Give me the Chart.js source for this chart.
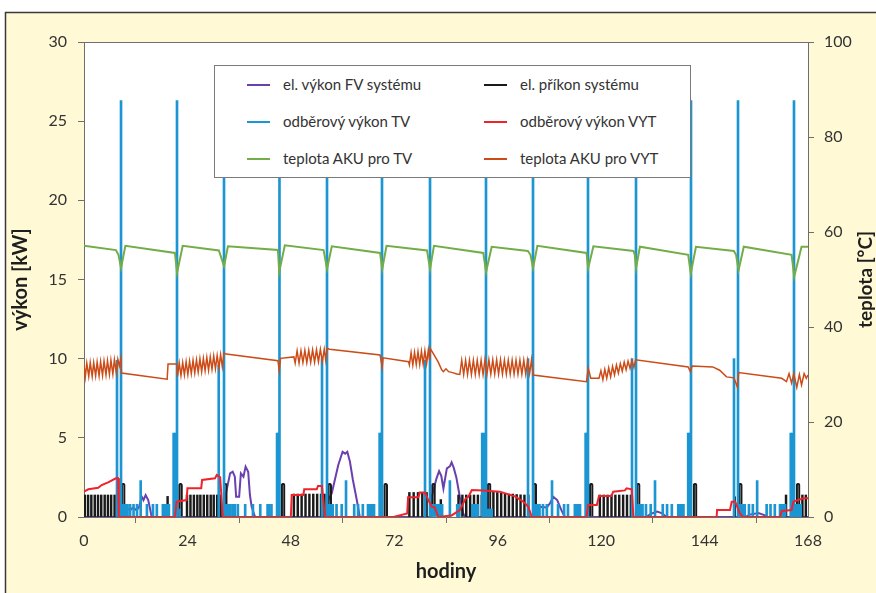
<!DOCTYPE html>
<html>
<head>
<meta charset="utf-8">
<script src="https://cdn.jsdelivr.net/npm/chart.js@4.4.1/dist/chart.umd.min.js"></script>
<style>
  body { margin: 0; background: #fff; }
  #wrap { position: relative; width: 876px; height: 593px; }
  #legend {
    position: absolute; left: 214px; top: 65px; width: 475px; height: 111px;
    background: #fff; border: 1px solid #7a7a7a; font: 15px Lato, sans-serif; color: #333;
  }
  .item { position: absolute; height: 20px; line-height: 20px; white-space: nowrap; }
  .item i { position: absolute; left: 0; top: 9px; width: 23px; height: 2px; }
  .item span { position: absolute; left: 36px; top: -1px; }
</style>
</head>
<body>
<div id="wrap">
  <canvas id="c" width="876" height="593"></canvas>
  <div id="legend"></div>
</div>
<script>
// x axis: hours, left axis kW, right axis °C
const xTicks = [0, 24, 48, 72, 96, 120, 144, 168];
const seriesNames = ['el. výkon FV systému', 'el. příkon systému', 'odběrový výkon TV',
  'odběrový výkon VYT', 'teplota AKU pro TV', 'teplota AKU pro VYT'];

// el. výkon FV systému [kW]
const pvPower = [[0,0],[9.6,0],[9.9,0.55],[10.7,0.42],[11.4,0.6],[12.2,0.42],[12.8,0.65],[13.4,1.28],[13.8,1.07],[14.3,1.39],[14.9,1.07],[15.3,0.55],[15.7,0],
  [32.5,0],[32.7,1.07],[33.1,1.7],[33.9,2.76],[34.5,2.86],[35.0,2.55],[35.3,1.28],[36.0,1.28],[36.4,2.76],[37.0,2.55],[37.5,3.18],[38.1,2.86],[38.5,1.39],[38.9,0.65],[39.7,0],
  [56.5,0],[56.7,1.07],[57.5,1.5],[58.2,2.34],[59.0,3.28],[60.0,4.12],[60.6,4.0],[61.1,4.12],[61.7,3.5],[62.4,2.34],[63.3,1.07],[64.0,0],
  [80.5,0],[80.7,1.28],[81.8,2.44],[82.4,2.9],[82.9,2.6],[83.4,1.8],[84.2,3.07],[84.9,3.2],[85.3,3.45],[85.8,3.1],[86.4,2.5],[87.2,1.28],[88.0,0.23],[88.4,0],
  [104.6,0],[105.3,0.5],[105.8,0.65],[107.4,0.6],[108.2,0.9],[108.9,1.28],[109.8,1.07],[110.8,0.42],[111.6,0],
  [130.5,0],[131.5,0.2],[133.0,0.35],[134.0,0.25],[135.0,0.05],[135.5,0],
  [153.5,0],[154.5,0.15],[156.5,0.25],[158.0,0.1],[158.5,0],[168,0]];

// el. příkon systému [kW]: compressor pulses and short runs after hot-water draws
const elPulses = [[0.2,1.39],[0.95,1.39],[1.7,1.39],[2.5,1.39],[3.25,1.39],[4.0,1.39],[4.8,1.39],[5.55,1.39],[6.3,1.39],[7.1,1.39],[7.85,1.39],
  [19.4,1.3],[23.9,1.39],[24.7,1.39],[25.5,1.39],[26.3,1.39],[27.0,1.39],[27.8,1.39],[28.6,1.39],[29.4,1.39],[30.1,1.39],[30.9,1.39],[31.7,1.39],
  [48.7,1.45],[49.6,1.45],[50.5,1.45],[51.4,1.45],[52.3,1.45],[53.2,1.45],[54.1,1.45],[55.0,1.45],[55.8,1.45],
  [75.5,1.55],[76.5,1.55],[77.5,1.55],[78.5,1.55],[79.5,1.55],[82.8,1.1],
  [86.9,1.39],[87.8,1.39],[88.7,1.39],[89.6,1.39],[90.5,1.39],[91.4,1.39],[92.3,1.39],
  [95.0,1.6],[95.9,1.55],[96.8,1.5],[97.7,1.5],[98.6,1.45],[99.5,1.45],[100.4,1.42],[101.3,1.4],[102.2,1.39],[103.1,1.39],
  [119.7,1.39],[120.6,1.39],[121.5,1.39],[122.4,1.39],[123.3,1.39],[124.2,1.39],[125.1,1.39],[126.0,1.39],[126.9,1.39],
  [151.0,1.28],[162.9,1.39],[166.7,1.39],[167.5,1.39]];
const elRuns = [[9.1,2.13],[22.4,2.13],[32.8,2.13],[46.2,2.13],[57.0,2.13],[70.0,2.13],[81.1,2.13],
  [94.0,2.13],[104.6,2.13],[117.7,2.13],[128.6,2.13],[141.8,2.13],[152.3,2.13],[165.7,2.13]];

// odběrový výkon TV [kW]
const tvPower = [[7.66,9.9],[8.59,26.3],[8.9,0.8],[9.3,0.8],[9.7,0.8],[10.1,0.8],[10.7,0.8],[11.5,0.8],[12.3,0.8],[13.15,2.3],[14.6,0.8],[16.0,0.8],[16.9,0.8],
  [18.3,0.8],[18.8,0.8],[19.3,0.8],[19.7,0.8],[20.8,5.3],[21.2,5.3],[21.58,26.3],[22.2,0.5],
  [31.26,9.6],[32.49,26.3],[32.8,0.8],[33.2,0.8],[33.6,0.8],[34.0,0.8],[34.5,0.8],[35.0,0.8],[35.7,0.8],[37.4,0.8],[39.2,0.8],[40.9,0.8],
  [42.6,0.8],[43.0,0.8],[43.5,0.8],[44.8,5.3],[45.1,5.3],[45.36,26.3],
  [55.23,10.0],[56.39,26.3],[56.8,0.8],[57.3,0.8],[57.7,0.8],[58.6,0.8],[59.8,0.8],[60.8,2.3],[62.7,0.8],[63.6,0.8],[64.7,0.8],
  [65.9,0.8],[66.3,0.8],[66.8,0.8],[67.3,0.8],[68.6,5.3],[68.9,5.3],[69.15,26.3],
  [79.13,9.9],[80.29,26.3],[80.7,0.8],[81.1,0.8],[81.6,0.8],[82.2,0.8],[82.6,0.8],[83.1,0.8],[84.9,2.3],[86.6,0.8],[87.1,0.8],
  [90.1,0.8],[90.5,0.8],[91.0,0.8],[91.4,0.8],[92.4,5.3],[92.8,5.3],[93.28,26.3],[93.7,0.5],[94.2,0.5],[94.6,0.5],
  [103.03,10.0],[104.19,26.3],[104.5,0.8],[104.9,0.8],[105.3,0.8],[105.7,0.8],[106.5,0.8],[107.4,0.8],[108.6,2.3],[110.0,0.8],[111.4,0.8],[112.3,0.8],
  [113.9,0.8],[114.3,0.8],[114.7,0.8],[115.1,0.8],[116.4,5.3],[116.7,5.3],[116.95,26.3],
  [127.16,10.0],[128.09,26.3],[128.4,0.8],[128.8,0.8],[129.2,0.8],[129.6,0.8],[130.4,0.8],[131.5,0.8],[132.5,2.3],[134.3,0.8],[135.3,0.8],[136.4,0.8],
  [137.9,0.8],[138.3,0.8],[138.7,0.8],[139.1,0.8],[140.2,5.3],[140.55,5.3],[140.85,26.3],
  [150.83,10.0],[151.76,26.3],[152.1,0.8],[152.5,0.8],[152.9,0.8],[153.3,0.8],[154.3,0.8],[155.2,0.8],[156.2,2.3],[158.4,0.8],[159.3,0.8],[160.3,0.8],
  [161.5,0.8],[161.9,0.8],[162.3,0.8],[162.7,0.8],[164.0,5.3],[164.4,5.3],[164.75,26.3],[165.1,0.8],[165.5,0.8],[165.9,0.8],[166.3,0.8]];

// odběrový výkon VYT [kW]
const vytPower = [[0,1.6],[1.0,1.75],[3.3,1.85],[4.1,2.02],[5.6,2.19],[7.4,2.44],[7.9,2.44],[8.1,0],
  [21.1,0],[21.5,0.97],[23.8,1.07],[24.0,1.81],[27.2,1.81],[27.4,2.34],[30.4,2.44],[30.8,2.65],[31.6,2.5],[32.2,0],
  [48.0,0],[48.2,1.39],[50.9,1.39],[51.1,1.75],[54.0,1.75],[54.3,1.96],[55.2,1.96],[55.5,1.2],[55.9,0],
  [71.8,0],[75.0,0.23],[75.2,1.24],[77.6,1.24],[77.9,1.54],[79.1,1.54],[79.9,1.07],[80.7,0.65],[81.4,0.6],[82.2,0],
  [85.3,0.1],[87.2,0.44],[88.0,0.86],[88.6,1.18],[89.2,1.28],[90.0,1.7],[92.6,1.68],[96.5,1.6],[100.0,1.3],[101.9,0.97],[103.1,0.65],[103.9,0],
  [116.6,0],[117.0,0.76],[119.0,0.76],[119.5,1.33],[122.4,1.33],[122.8,1.6],[125.5,1.68],[125.9,1.81],[127.1,1.75],[127.5,0],
  [146.8,0],[146.9,0.44],[149.9,0.44],[150.3,0.97],[151.1,0.97],[152.2,0.23],[152.9,0],
  [161.5,0],[161.9,0.38],[164.2,0.44],[164.6,0.97],[166.9,1.18],[168,1.18]];

// teplota AKU pro TV [°C]
const tvTemp = [[0,57.1],[7.4,56.2],[8.0,55.2],[8.6,52.4],[9.6,57.1],[21.1,55.6],[21.6,51.4],[22.9,57.1],
  [31.3,56.1],[32.5,52.8],[33.4,57.0],[45.0,56.2],[45.3,51.6],[46.6,57.2],[55.6,56.2],[56.4,52.2],[57.5,57.0],
  [68.7,55.6],[69.2,52.2],[70.2,57.1],[79.6,56.1],[80.3,52.2],[81.2,57.1],[92.65,55.6],[93.3,51.6],[94.6,56.9],
  [103.0,56.0],[103.6,55.2],[104.2,52.4],[105.2,57.1],[116.6,55.6],[117.0,52.4],[118.2,57.0],
  [127.5,56.0],[127.8,55.2],[128.1,52.4],[129.0,56.9],[140.2,55.2],[140.8,51.3],[142.0,56.9],
  [150.8,56.0],[151.3,55.2],[151.9,52.0],[153.1,56.9],[164.2,55.2],[164.8,50.6],[166.5,56.9],[168,56.9]];

// teplota AKU pro VYT [°C]
const vytTemp = [[0,32.0],[0.3,29.5],[0.65,32.4],[1.1,29.6],[1.45,32.5],[1.9,29.6],[2.25,32.5],[2.7,29.7],[3.05,32.6],[3.5,29.7],[3.85,32.7],
  [4.3,29.8],[4.65,32.8],[5.1,29.9],[5.45,32.9],[5.9,30.0],[6.25,33.0],[6.7,30.1],[7.05,33.1],[7.5,30.3],[7.85,33.2],[8.2,31.8],[8.55,33.4],[8.7,30.3],
  [19.3,29.0],[19.5,32.2],[21.5,32.2],[21.7,29.6],[22.1,32.4],[22.5,29.8],[22.9,32.5],[23.3,29.9],[23.7,32.7],[24.1,30.0],[24.5,32.8],
  [24.9,30.2],[25.3,33.0],[25.7,30.3],[26.1,33.1],[26.5,30.5],[26.9,33.3],[27.3,30.6],[27.7,33.4],[28.1,30.8],[28.5,33.6],[28.9,30.9],
  [29.3,33.7],[29.7,31.1],[30.1,33.9],[30.5,31.2],[30.9,34.0],[31.3,31.4],[31.7,34.2],[32.1,31.6],[32.5,34.5],
  [33.0,34.3],[45.0,32.9],[45.3,30.9],[45.6,33.4],[48.7,33.7],
  [49.0,32.4],[49.45,35.0],[49.9,32.4],[50.35,35.0],[50.8,32.5],[51.25,35.1],[51.7,32.5],[52.15,35.1],[52.6,32.6],[53.05,35.2],
  [53.5,32.6],[53.95,35.2],[54.4,32.7],[54.85,35.3],[55.3,32.7],[55.75,35.3],[56.1,33.0],[56.4,35.5],
  [57.0,35.3],[68.7,34.1],[69.2,31.5],[69.4,33.5],[75.3,32.7],
  [75.5,32.0],[75.9,34.6],[76.3,32.0],[76.7,34.7],[77.1,32.1],[77.5,34.8],[77.9,32.1],[78.3,34.9],[78.7,32.2],[79.1,35.0],
  [79.5,32.3],[79.9,35.2],[80.2,33.0],[80.4,35.4],
  [81.2,34.2],[82.2,32.6],[83.0,31.0],[83.4,30.6],[84.0,31.2],[84.6,30.6],[85.5,30.4],[86.5,30.1],[87.2,30.0],
  [87.65,33.0],[88.1,30.0],[88.55,33.0],[89.0,30.0],[89.45,33.0],[89.9,30.0],[90.35,33.0],[90.8,30.0],[91.25,33.0],[91.7,30.0],
  [92.15,33.0],[92.6,30.0],[93.05,33.1],[93.5,30.1],[93.95,33.1],[94.4,30.1],[94.85,33.1],[95.3,30.1],[95.75,33.1],[96.2,30.1],
  [96.65,33.1],[97.1,30.1],[97.55,33.0],[98.0,30.1],[98.45,33.0],[98.9,30.1],[99.35,33.0],[99.8,30.1],[100.25,33.0],[100.7,30.1],
  [101.15,33.0],[101.6,30.1],[102.05,33.0],[102.5,30.1],[102.95,33.0],[103.4,30.2],[103.85,33.1],
  [104.2,29.9],[116.6,28.5],[117.0,31.3],[117.6,29.2],[119.5,29.2],
  [119.95,30.8],[120.4,28.9],[120.85,31.1],[121.3,29.2],[121.75,31.4],[122.2,29.5],[122.65,31.7],[123.1,29.9],[123.55,32.0],
  [124.0,30.3],[124.45,32.3],[124.9,30.7],[125.35,32.6],[125.8,31.0],[126.25,32.8],[126.7,31.3],[127.15,33.0],[127.6,31.5],[128.0,33.1],
  [140.2,31.6],[140.7,30.6],[141.1,31.8],[145.9,31.6],[147.5,30.9],[149.1,29.5],[150.8,29.3],[151.6,27.4],[151.9,30.4],[161.9,29.2],
  [163.0,28.5],[163.6,30.2],[164.2,28.2],[164.7,30.2],[165.4,27.3],[166.0,30.0],[166.5,27.8],[167.1,30.2],[167.6,29.2],[168,29.9]];

const COLORS = ['#6a3fae', '#1a1a1a', '#1b96d3', '#f0222a', '#72ad47', '#cc4b17'];
const FONT = 'Lato, sans-serif';

const xy = rows => rows.map(([x, y]) => ({ x, y }));

function lineSet(label, rows, color, axis, width) {
  return { type: 'line', label, data: xy(rows), yAxisID: axis, borderColor: color, backgroundColor: color,
    borderWidth: width || 2, pointRadius: 0, tension: 0, fill: false };
}
function barSet(label, rows, color, thickness, extra) {
  return Object.assign({ type: 'bar', label, data: xy(rows), yAxisID: 'y', backgroundColor: color,
    barThickness: thickness, grouped: false, borderWidth: 0 }, extra || {});
}

// first dataset is drawn on top
const datasets = [
  lineSet(seriesNames[5], vytTemp, COLORS[5], 'y1', 1.5),
  lineSet(seriesNames[4], tvTemp, COLORS[4], 'y1'),
  lineSet(seriesNames[3], vytPower, COLORS[3], 'y'),
  barSet(seriesNames[2], tvPower, COLORS[2], 2),
  barSet(seriesNames[1], elRuns, 'rgba(0,0,0,0)', 4, { borderColor: COLORS[1], borderWidth: 1.5,
    borderSkipped: 'bottom', borderRadius: { topLeft: 2, topRight: 2 } }),
  barSet(seriesNames[1], elPulses, COLORS[1], 1.8),
  lineSet(seriesNames[0], pvPower, COLORS[0], 'y')
];

function drawTitle(ctx, text, x, y, size, rotate) {
  ctx.save();
  ctx.fillStyle = '#1e1e1e';
  ctx.font = 'bold ' + size + 'px ' + FONT;
  ctx.textAlign = 'center';
  ctx.textBaseline = 'middle';
  ctx.translate(x, y);
  if (rotate) ctx.rotate(-Math.PI / 2);
  ctx.fillText(text, 0, 0);
  ctx.restore();
}

const frame = {
  id: 'frame',
  beforeDraw(chart) {
    const { ctx, chartArea: a } = chart;
    ctx.save();
    ctx.fillStyle = '#fff';
    ctx.fillRect(0, 0, chart.width, chart.height);
    ctx.fillStyle = '#fff9d6';
    ctx.fillRect(5, 12, chart.width, chart.height);
    ctx.strokeStyle = '#3a3a3a';
    ctx.lineWidth = 1.5;
    ctx.strokeRect(5.5, 12.5, chart.width + 10, chart.height + 10);
    ctx.fillStyle = '#fff';
    ctx.fillRect(a.left, a.top, a.right - a.left, a.bottom - a.top);
    ctx.restore();
  },
  afterDraw(chart) {
    const { ctx, chartArea: a } = chart;
    ctx.save();
    ctx.strokeStyle = '#6e6e6e';
    ctx.lineWidth = 1;
    ctx.beginPath();
    ctx.moveTo(a.left, a.top + 0.5);
    ctx.lineTo(a.right, a.top + 0.5);
    ctx.stroke();
    ctx.restore();
    const midY = (a.top + a.bottom) / 2;
    drawTitle(ctx, 'hodiny', (a.left + a.right) / 2, 572, 20, false);
    drawTitle(ctx, 'výkon [kW]', 21, midY, 20, true);
    drawTitle(ctx, 'teplota [°C]', 866, midY, 19, true);
  }
};

const tickFont = { family: FONT, size: 16 };
const axisGrid = { drawOnChartArea: false, drawTicks: true, tickLength: 6, color: '#6e6e6e' };

new Chart(document.getElementById('c'), {
  type: 'line',
  data: { datasets },
  options: {
    responsive: false,
    devicePixelRatio: 1,
    animation: false,
    layout: { padding: { top: 42 } },
    plugins: { legend: { display: false }, tooltip: { enabled: false } },
    scales: {
      x: {
        type: 'linear', min: 0, max: 168, offset: false,
        afterBuildTicks: s => { s.ticks = xTicks.map(v => ({ value: v })); },
        afterFit: s => { s.height = 76; },
        ticks: { font: tickFont, color: '#333', padding: 8, maxRotation: 0 },
        grid: axisGrid, border: { color: '#6e6e6e' }
      },
      y: {
        position: 'left', min: 0, max: 30,
        afterFit: s => { s.width = 84; },
        ticks: { stepSize: 5, font: tickFont, color: '#333', padding: 11 },
        grid: axisGrid, border: { color: '#6e6e6e' }
      },
      y1: {
        position: 'right', min: 0, max: 100,
        afterFit: s => { s.width = 68; },
        ticks: { stepSize: 20, font: tickFont, color: '#333', padding: 10 },
        grid: axisGrid, border: { color: '#6e6e6e' }
      }
    }
  },
  plugins: [frame]
});

// legend box inside the plot, two columns
document.getElementById('legend').innerHTML = seriesNames.map((name, i) => {
  const col = i % 2, row = Math.floor(i / 2);
  return `<div class="item" style="left:${col ? 269 : 32}px;top:${9 + row * 37}px">` +
    `<i style="background:${COLORS[i]}"></i><span>${name}</span></div>`;
}).join('');
</script>
</body>
</html>
